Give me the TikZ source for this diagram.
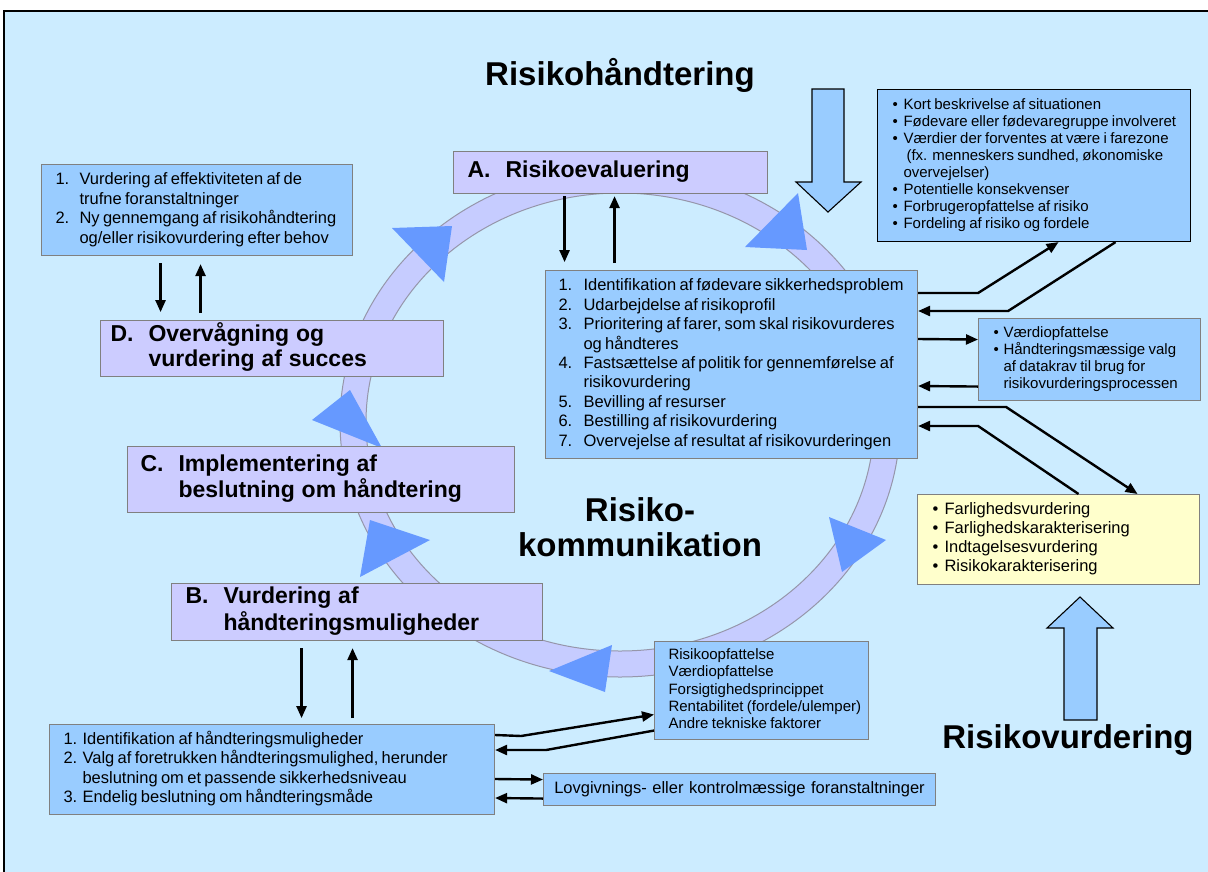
\documentclass[tikz,border=0pt]{standalone}
\usepackage{fontspec}
\setmainfont{Liberation Sans}
\usetikzlibrary{arrows.meta,calc}
\definecolor{bgc}{RGB}{204,236,255}
\definecolor{boxc}{RGB}{153,204,255}
\definecolor{lavc}{RGB}{204,204,255}
\definecolor{yelc}{RGB}{255,255,204}
\definecolor{tric}{RGB}{102,153,255}
\definecolor{ringc}{RGB}{198,204,255}
\definecolor{ringe}{RGB}{150,150,170}
\definecolor{edgec}{RGB}{128,128,128}
\newcommand{\mylist}[4]{{\fontsize{#2}{#3}\selectfont\begin{tabular}{@{}p{#1}@{}l@{}}#4\end{tabular}}}
\newcommand{\mytitle}[1]{{\fontsize{23}{25}\selectfont\bfseries\spaceskip=0.3em\relax\begin{tabular}{@{}p{38pt}@{}l@{}}#1\end{tabular}}}
\begin{document}
\begin{tikzpicture}[x=1pt,y=-1pt,
  box/.style={draw=edgec, line width=1.1pt, fill=boxc, anchor=north west, inner sep=0pt, align=left},
  lav/.style={draw=edgec, line width=1.1pt, fill=lavc, anchor=north west, inner sep=0pt, align=left},
  bigt/.style={font=\fontsize{33}{35}\selectfont\bfseries, inner sep=0pt, align=center},
  con/.style={line width=2.4pt},
  arr/.style={con, -{Triangle[length=12pt,width=10pt]}},
  rarr/.style={con, {Triangle[length=12pt,width=10pt]}-},
  tri/.style={fill=tric},
  bigarrow/.style={fill=boxc, draw=black, line width=1.1pt, line join=miter}]
\useasboundingbox (0,0) rectangle (1208,871);
\fill[white] (0,0) rectangle (1208,871);
\fill[bgc] (4,11) rectangle (1230,890);
\draw[line width=2.5pt] (4,11) rectangle (1230,890);

% ring
\fill[ringc, even odd rule] (620,422) ellipse [x radius=280pt, y radius=255pt] (620,422) ellipse [x radius=254pt, y radius=229pt];
\draw[ringe, line width=1pt] (620,422) ellipse [x radius=280pt, y radius=255pt];
\draw[ringe, line width=1pt] (620,422) ellipse [x radius=254pt, y radius=229pt];

% triangles on the ring
\fill[tri] (392,228) -- (452,226) -- (444,282) -- cycle;
\fill[tri] (745,247) -- (798,193) -- (807,250) -- cycle;
\fill[tri] (829,517) -- (886,540) -- (842,572) -- cycle;
\fill[tri] (612,645) -- (549,671) -- (605,692) -- cycle;
\fill[tri] (370,520) -- (430,540) -- (360,577) -- cycle;
\fill[tri] (350,390) -- (382,448) -- (312,420) -- cycle;

% big arrows
\draw[bigarrow] (812,89) -- (844,89) -- (844,182) -- (861,182) -- (828,212) -- (796,182) -- (812,182) -- cycle;
\draw[bigarrow] (1064,720) -- (1064,628) -- (1047,628) -- (1080,597) -- (1113,628) -- (1097,628) -- (1097,720) -- cycle;

% titles
\node[bigt] (rh) at (620,75) {Risikohåndtering};
\node[bigt] (rk) at (640,527) {Risiko-\\kommunikation};
\node[bigt] (rv) at (1068,740) {Risikovurdering};

% stage boxes
\node[lav, minimum width=314pt, minimum height=42pt, text width=314pt] (A) at (453,151) {\hspace*{14pt}\mytitle{A. & Risikoevaluering}};
\node[lav, minimum width=343pt, minimum height=56pt, text width=343pt] (D) at (100,320) {\hspace*{10pt}\mytitle{D. & Overvågning og\\ & vurdering af succes}};
\node[lav, minimum width=387pt, minimum height=66pt, text width=387pt] (C) at (127,446) {\hspace*{13pt}\mytitle{C. & Implementering af\\ & beslutning om håndtering}};
\node[lav, minimum width=371pt, minimum height=57pt, text width=371pt] (B) at (171,583) {\hspace*{14pt}\mytitle{B. & Vurdering af\\ & håndteringsmuligheder}};

% list boxes
\node[box, minimum width=372pt, minimum height=188pt, text width=372pt] (a1) at (545,270) {\hspace*{13pt}\mylist{25pt}{16.5}{19.4}{
1. & Identifikation af fødevare sikkerhedsproblem\\
2. & Udarbejdelse af risikoprofil\\
3. & Prioritering af farer, som skal risikovurderes\\
 & og håndteres\\
4. & Fastsættelse af politik for gennemførelse af\\
 & risikovurdering\\
5. & Bevilling af resurser\\
6. & Bestilling af risikovurdering\\
7. & Overvejelse af resultat af risikovurderingen}};

\node[box, minimum width=311pt, minimum height=91pt, text width=311pt] (d1) at (41,164) {\hspace*{14pt}\mylist{24pt}{16.5}{19.5}{
1. & Vurdering af effektiviteten af de\\
 & trufne foranstaltninger\\
2. & Ny gennemgang af risikohåndtering\\
 & og/eller risikovurdering efter behov}};

\node[box, draw=black, minimum width=313pt, minimum height=152pt, text width=313pt] (tr) at (877,89) {\hspace*{15pt}\mylist{11pt}{15}{17.1}{
• & Kort beskrivelse af situationen\\
• & Fødevare eller fødevaregruppe involveret\\
• & Værdier der forventes at være i farezone\\
 & \hspace*{3pt}(fx. menneskers sundhed, økonomiske\\
 & overvejelser)\\
• & Potentielle konsekvenser\\
• & Forbrugeropfattelse af risiko\\
• & Fordeling af risiko og fordele}};

\node[box, minimum width=222pt, minimum height=82pt, text width=222pt] (vb) at (978,318) {\hspace*{15pt}\mylist{10pt}{15}{17}{
• & Værdiopfattelse\\
• & Håndteringsmæssige valg\\
 & af datakrav til brug for\\
 & risikovurderingsprocessen}};

\node[box, fill=yelc, minimum width=282pt, minimum height=90pt, text width=282pt] (yb) at (917,494) {\hspace*{15pt}\mylist{12pt}{16.5}{19}{
• & Farlighedsvurdering\\
• & Farlighedskarakterisering\\
• & Indtagelsesvurdering\\
• & Risikokarakterisering}};

\node[box, minimum width=445pt, minimum height=90pt, text width=445pt] (b1) at (49,724) {\hspace*{14pt}\mylist{19pt}{16.5}{19.3}{
1. & Identifikation af håndteringsmuligheder\\
2. & Valg af foretrukken håndteringsmulighed, herunder\\
 & beslutning om et passende sikkerhedsniveau\\
3. & Endelig beslutning om håndteringsmåde}};

\node[box, minimum width=214pt, minimum height=98pt, text width=214pt] (fb) at (654,641) {\hspace*{14pt}{\fontsize{15}{17.3}\selectfont\begin{tabular}{@{}l@{}}
Risikoopfattelse\\
Værdiopfattelse\\
Forsigtighedsprincippet\\
Rentabilitet (fordele/ulemper)\\
Andre tekniske faktorer\end{tabular}}};

\node[box, align=center, minimum width=392pt, minimum height=32pt, text width=392pt, font=\fontsize{16.5}{19}\selectfont] (lb) at (543,773) {Lovgivnings- eller kontrolmæssige foranstaltninger};

% vertical connectors
\draw[arr] ($(A.south)+(-46,2)$) -- ($(A.south)+(-46,68)$);
\draw[arr] ($(A.south)+(4,69)$) -- ($(A.south)+(4,2)$);
\draw[arr] ($(d1.south)+(-36.5,7)$) -- ($(d1.south)+(-36.5,56)$);
\draw[arr] ($(d1.south)+(3.5,57)$) -- ($(d1.south)+(3.5,8)$);
\draw[arr] ($(B.south)+(-55.5,7)$) -- ($(B.south)+(-55.5,77)$);
\draw[arr] ($(B.south)+(-4.5,77)$) -- ($(B.south)+(-4.5,7)$);

% right side connectors
\draw[arr] ([yshift=-23pt]a1.north east) -- ++(60,0) -- ([xshift=24.5pt]tr.south);
\draw[rarr] ([yshift=-41pt]a1.north east) -- ++(90,0) -- ([xshift=81.5pt]tr.south);
\draw[arr] ([yshift=-69pt]a1.north east) -- ([yshift=20pt]vb.west);
\draw[rarr] ([yshift=-116pt]a1.north east) -- ([yshift=-27pt]vb.west);
\draw[arr] ([yshift=-137pt]a1.north east) -- ++(88,0) -- ([xshift=79pt]yb.north);
\draw[rarr] ([yshift=-156pt]a1.north east) -- ++(60,0) -- ([xshift=20pt]yb.north);

% bottom connectors
\draw[arr] ([yshift=-11pt]b1.north east) -- ++(26,1) -- ([yshift=-24pt]fb.west);
\draw[rarr] ([yshift=-26pt]b1.north east) -- ++(51,0) -- ([yshift=-40pt]fb.west);
\draw[arr] ([yshift=-55pt]b1.north east) -- ([yshift=10pt]lb.west);
\draw[rarr] ([yshift=-74pt]b1.north east) -- ([yshift=-9pt]lb.west);
\end{tikzpicture}
\end{document}
